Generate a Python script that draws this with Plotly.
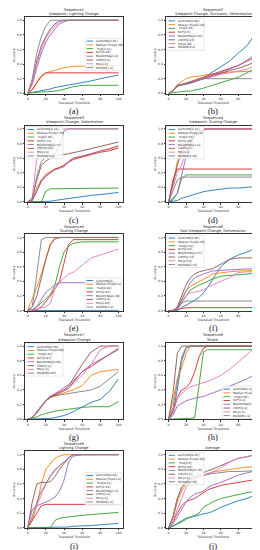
import plotly.graph_objects as go

# ---------------- data ----------------
X = [0, 5, 10, 15, 20, 25, 30, 35, 40, 45, 50, 60, 70, 80, 90, 100]
TRACKERS = ["GOTURN", "Median Flow", "TLD", "KCF", "BOOSTING", "CSRT", "MIL", "MOSSE"]
X_TICKS = [0, 20, 40, 60, 80, 100]
X_TICK_TEXT = ["0", "20", "40", "60", "80", "100"]
Y_TICKS = [0.0, 0.2, 0.4, 0.6, 0.8, 1.0]
Y_TICK_TEXT = ["0.0", "0.2", "0.4", "0.6", "0.8", "1.0"]

seq1 = {
    "GOTURN":      [0, 0.01, 0.02, 0.04, 0.05, 0.06, 0.08, 0.09, 0.10, 0.11, 0.12, 0.15, 0.17, 0.20, 0.22, 0.25],
    "Median Flow": [0, 0.05, 0.14, 0.22, 0.28, 0.30, 0.32, 0.34, 0.35, 0.36, 0.37, 0.37, 0.38, 0.38, 0.38, 0.38],
    "TLD":         [0, 0.01, 0.01, 0.02, 0.02, 0.02, 0.03, 0.04, 0.06, 0.08, 0.09, 0.11, 0.11, 0.11, 0.11, 0.11],
    "KCF":         [0, 0.05, 0.15, 0.24, 0.28, 0.28, 0.28, 0.28, 0.28, 0.28, 0.28, 0.28, 0.28, 0.28, 0.28, 0.28],
    "BOOSTING":    [0, 0.12, 0.35, 0.55, 0.70, 0.80, 0.88, 0.95, 0.98, 1.0, 1.0, 1.0, 1.0, 1.0, 1.0, 1.0],
    "CSRT":        [0, 0.15, 0.45, 0.65, 0.78, 0.88, 0.95, 0.99, 1.0, 1.0, 1.0, 1.0, 1.0, 1.0, 1.0, 1.0],
    "MIL":         [0, 0.14, 0.40, 0.60, 0.75, 0.85, 0.92, 0.97, 1.0, 1.0, 1.0, 1.0, 1.0, 1.0, 1.0, 1.0],
    "MOSSE":       [0, 0.20, 0.55, 0.78, 0.92, 1.0, 1.0, 1.0, 1.0, 1.0, 1.0, 1.0, 1.0, 1.0, 1.0, 1.0],
}
seq2 = {
    "GOTURN":      [0, 0.03, 0.11, 0.12, 0.13, 0.15, 0.17, 0.19, 0.21, 0.25, 0.29, 0.36, 0.44, 0.55, 0.65, 0.82],
    "Median Flow": [0, 0.04, 0.12, 0.16, 0.20, 0.22, 0.23, 0.24, 0.25, 0.26, 0.27, 0.28, 0.29, 0.30, 0.30, 0.29],
    "TLD":         [0, 0.01, 0.02, 0.03, 0.03, 0.03, 0.04, 0.05, 0.07, 0.09, 0.11, 0.15, 0.18, 0.22, 0.28, 0.35],
    "KCF":         [0, 0.03, 0.10, 0.12, 0.14, 0.16, 0.18, 0.20, 0.22, 0.23, 0.25, 0.29, 0.33, 0.38, 0.44, 0.50],
    "BOOSTING":    [0, 0.03, 0.10, 0.11, 0.12, 0.14, 0.16, 0.18, 0.20, 0.22, 0.24, 0.28, 0.33, 0.38, 0.45, 0.54],
    "CSRT":        [0, 0.03, 0.10, 0.11, 0.12, 0.14, 0.16, 0.18, 0.20, 0.22, 0.24, 0.27, 0.31, 0.34, 0.38, 0.43],
    "MIL":         [0, 0.03, 0.10, 0.12, 0.15, 0.16, 0.17, 0.19, 0.20, 0.21, 0.23, 0.26, 0.28, 0.30, 0.33, 0.38],
    "MOSSE":       [0, 0.03, 0.10, 0.12, 0.14, 0.15, 0.17, 0.19, 0.20, 0.20, 0.20, 0.20, 0.20, 0.20, 0.20, 0.20],
}
seq3 = {
    "GOTURN":      [0, 0, 0, 0, 0, 0.01, 0.02, 0.03, 0.04, 0.05, 0.05, 0.07, 0.09, 0.10, 0.12, 0.13],
    "Median Flow": [0, 0.02, 0.20, 0.30, 0.38, 0.42, 0.45, 0.47, 0.50, 0.55, 0.60, 0.62, 0.65, 0.70, 0.72, 0.76],
    "TLD":         [0, 0, 0, 0, 0.15, 0.18, 0.18, 0.18, 0.18, 0.18, 0.18, 0.18, 0.19, 0.19, 0.19, 0.19],
    "KCF":         [0, 0.02, 0.15, 0.28, 0.35, 0.40, 0.45, 0.47, 0.50, 0.54, 0.58, 0.62, 0.65, 0.68, 0.70, 0.74],
    "BOOSTING":    [0, 0.02, 0.15, 0.30, 0.36, 0.40, 0.44, 0.46, 0.48, 0.55, 0.60, 0.63, 0.66, 0.70, 0.73, 0.77],
    "CSRT":        [0, 0.05, 0.30, 0.50, 0.56, 0.60, 0.62, 0.64, 0.65, 0.66, 0.67, 0.70, 0.73, 0.76, 0.80, 0.82],
    "MIL":         [0, 0.05, 0.60, 0.85, 0.93, 0.97, 0.99, 1.0, 1.0, 1.0, 1.0, 1.0, 1.0, 1.0, 1.0, 1.0],
    "MOSSE":       [0, 0.05, 0.35, 0.55, 0.62, 0.63, 0.65, 0.80, 0.97, 1.0, 1.0, 1.0, 1.0, 1.0, 1.0, 1.0],
}
seq4 = {
    "GOTURN":      [0, 0.01, 0.02, 0.05, 0.07, 0.09, 0.10, 0.12, 0.14, 0.15, 0.16, 0.18, 0.19, 0.19, 0.20, 0.21],
    "Median Flow": [0, 0.25, 0.55, 0.72, 0.80, 0.86, 0.90, 0.95, 0.98, 1.0, 1.0, 1.0, 1.0, 1.0, 1.0, 1.0],
    "TLD":         [0, 0.03, 0.12, 0.32, 0.37, 0.37, 0.37, 0.37, 0.37, 0.37, 0.37, 0.37, 0.37, 0.37, 0.37, 0.37],
    "KCF":         [0, 0.30, 0.45, 0.45, 0.45, 0.45, 0.45, 0.45, 0.45, 0.45, 0.45, 0.45, 0.45, 0.45, 0.45, 0.45],
    "BOOSTING":    [0, 0.05, 0.12, 0.38, 0.62, 0.80, 0.90, 0.95, 1.0, 1.0, 1.0, 1.0, 1.0, 1.0, 1.0, 1.0],
    "CSRT":        [0, 0.25, 0.50, 0.70, 0.78, 0.85, 0.90, 0.95, 0.99, 1.0, 1.0, 1.0, 1.0, 1.0, 1.0, 1.0],
    "MIL":         [0, 0.20, 0.40, 0.50, 0.70, 0.85, 0.95, 1.0, 1.0, 1.0, 1.0, 1.0, 1.0, 1.0, 1.0, 1.0],
    "MOSSE":       [0, 0.15, 0.30, 0.34, 0.34, 0.34, 0.34, 0.34, 0.34, 0.34, 0.34, 0.34, 0.34, 0.34, 0.34, 0.34],
}
seq5 = {
    "GOTURN":      [0, 0, 0, 0, 0, 0, 0, 0, 0, 0, 0, 0, 0, 0, 0, 0],
    "Median Flow": [0, 0.15, 0.32, 0.50, 0.70, 0.92, 0.99, 1.0, 1.0, 1.0, 1.0, 1.0, 1.0, 1.0, 1.0, 1.0],
    "TLD":         [0, 0.01, 0.05, 0.10, 0.16, 0.22, 0.35, 0.60, 0.80, 0.88, 0.92, 0.94, 0.94, 0.94, 0.94, 0.94],
    "KCF":         [0, 0, 0.01, 0.05, 0.12, 0.20, 0.30, 0.40, 0.65, 0.90, 0.97, 0.97, 0.97, 0.97, 0.97, 0.97],
    "BOOSTING":    [0, 0.01, 0.05, 0.15, 0.25, 0.30, 0.35, 0.38, 0.38, 0.38, 0.38, 0.38, 0.38, 0.38, 0.38, 0.38],
    "CSRT":        [0, 0.05, 0.20, 0.45, 0.70, 0.90, 0.98, 1.0, 1.0, 1.0, 1.0, 1.0, 1.0, 1.0, 1.0, 1.0],
    "MIL":         [0, 0, 0.02, 0.03, 0.05, 0.10, 0.30, 0.38, 0.45, 0.50, 0.52, 0.62, 0.72, 0.76, 0.80, 0.84],
    "MOSSE":       [0, 0.05, 0.50, 0.97, 1.0, 1.0, 1.0, 1.0, 1.0, 1.0, 1.0, 1.0, 1.0, 1.0, 1.0, 1.0],
}
seq6 = {
    "GOTURN":      [0, 0, 0, 0.04, 0.07, 0.10, 0.14, 0.18, 0.24, 0.32, 0.42, 0.60, 0.70, 0.76, 0.80, 0.85],
    "Median Flow": [0, 0, 0.03, 0.15, 0.27, 0.33, 0.36, 0.39, 0.42, 0.46, 0.50, 0.52, 0.53, 0.54, 0.55, 0.55],
    "TLD":         [0, 0, 0.03, 0.12, 0.20, 0.28, 0.32, 0.35, 0.37, 0.40, 0.43, 0.47, 0.48, 0.49, 0.50, 0.51],
    "KCF":         [0, 0, 0.01, 0.03, 0.04, 0.04, 0.04, 0.04, 0.04, 0.04, 0.04, 0.04, 0.04, 0.04, 0.04, 0.04],
    "BOOSTING":    [0, 0, 0.03, 0.15, 0.28, 0.38, 0.45, 0.48, 0.50, 0.52, 0.54, 0.55, 0.56, 0.56, 0.57, 0.57],
    "CSRT":        [0, 0, 0.05, 0.20, 0.35, 0.45, 0.50, 0.53, 0.55, 0.56, 0.57, 0.63, 0.70, 0.72, 0.72, 0.72],
    "MIL":         [0, 0, 0.02, 0.10, 0.20, 0.25, 0.25, 0.27, 0.28, 0.32, 0.35, 0.40, 0.45, 0.52, 0.53, 0.53],
    "MOSSE":       [0, 0, 0.02, 0.10, 0.13, 0.13, 0.13, 0.13, 0.13, 0.13, 0.13, 0.13, 0.13, 0.13, 0.13, 0.13],
}
seq7 = {
    "GOTURN":      [0, 0, 0, 0, 0, 0.01, 0.02, 0.03, 0.05, 0.07, 0.10, 0.17, 0.23, 0.27, 0.38, 0.55],
    "Median Flow": [0, 0.02, 0.10, 0.18, 0.25, 0.30, 0.32, 0.34, 0.36, 0.38, 0.40, 0.46, 0.60, 0.65, 0.67, 0.68],
    "TLD":         [0, 0.01, 0.03, 0.06, 0.08, 0.10, 0.11, 0.12, 0.13, 0.14, 0.15, 0.16, 0.17, 0.17, 0.17, 0.24],
    "KCF":         [0, 0.02, 0.10, 0.18, 0.25, 0.30, 0.33, 0.35, 0.38, 0.42, 0.50, 0.65, 0.72, 0.80, 0.88, 0.97],
    "BOOSTING":    [0, 0.02, 0.10, 0.18, 0.26, 0.31, 0.35, 0.38, 0.42, 0.47, 0.52, 0.65, 0.75, 0.82, 0.88, 0.95],
    "CSRT":        [0, 0.02, 0.10, 0.18, 0.25, 0.30, 0.33, 0.36, 0.40, 0.45, 0.55, 0.75, 0.92, 1.0, 1.0, 1.0],
    "MIL":         [0, 0.02, 0.10, 0.18, 0.26, 0.32, 0.35, 0.37, 0.40, 0.42, 0.48, 0.60, 0.75, 0.95, 1.0, 1.0],
    "MOSSE":       [0, 0.02, 0.08, 0.17, 0.25, 0.30, 0.32, 0.33, 0.34, 0.35, 0.36, 0.38, 0.40, 0.45, 0.55, 0.65],
}
seq8 = {
    "GOTURN":      [0, 0.10, 0.40, 0.80, 0.97, 1.0, 1.0, 1.0, 1.0, 1.0, 1.0, 1.0, 1.0, 1.0, 1.0, 1.0],
    "Median Flow": [0, 0.25, 0.55, 0.70, 0.90, 1.0, 1.0, 1.0, 1.0, 1.0, 1.0, 1.0, 1.0, 1.0, 1.0, 1.0],
    "TLD":         [0, 0, 0, 0, 0, 0.01, 0.02, 0.50, 0.92, 0.95, 0.95, 0.95, 0.95, 0.95, 0.95, 0.95],
    "KCF":         [0, 0.10, 0.30, 0.40, 0.43, 0.50, 0.65, 0.85, 0.97, 1.0, 1.0, 1.0, 1.0, 1.0, 1.0, 1.0],
    "BOOSTING":    [0, 0.05, 0.18, 0.22, 0.25, 0.27, 0.29, 0.30, 0.31, 0.33, 0.35, 0.40, 0.45, 0.50, 0.55, 0.62],
    "CSRT":        [0, 0.35, 0.90, 1.0, 1.0, 1.0, 1.0, 1.0, 1.0, 1.0, 1.0, 1.0, 1.0, 1.0, 1.0, 1.0],
    "MIL":         [0, 0.08, 0.28, 0.35, 0.40, 0.44, 0.46, 0.48, 0.50, 0.52, 0.54, 0.60, 0.68, 0.78, 0.88, 1.0],
    "MOSSE":       [0, 0.15, 0.50, 0.85, 0.98, 1.0, 1.0, 1.0, 1.0, 1.0, 1.0, 1.0, 1.0, 1.0, 1.0, 1.0],
}
seq9 = {
    "GOTURN":      [0, 0, 0, 0, 0, 0, 0, 0.01, 0.01, 0.01, 0.02, 0.02, 0.03, 0.04, 0.05, 0.06],
    "Median Flow": [0, 0.10, 0.30, 0.60, 0.80, 0.88, 0.95, 0.98, 1.0, 1.0, 1.0, 1.0, 1.0, 1.0, 1.0, 1.0],
    "TLD":         [0, 0, 0, 0, 0, 0, 0.10, 0.13, 0.14, 0.15, 0.16, 0.17, 0.18, 0.19, 0.20, 0.21],
    "KCF":         [0, 0.10, 0.20, 0.30, 0.32, 0.32, 0.32, 0.32, 0.32, 0.32, 0.32, 0.32, 0.32, 0.32, 0.32, 0.32],
    "BOOSTING":    [0, 0.25, 0.30, 0.32, 0.35, 0.38, 0.42, 0.50, 0.65, 0.90, 0.98, 1.0, 1.0, 1.0, 1.0, 1.0],
    "CSRT":        [0, 0.35, 0.60, 0.62, 0.62, 0.63, 0.70, 0.80, 0.88, 0.95, 1.0, 1.0, 1.0, 1.0, 1.0, 1.0],
    "MIL":         [0, 0.25, 0.30, 0.45, 0.60, 0.72, 0.80, 0.85, 0.90, 0.95, 1.0, 1.0, 1.0, 1.0, 1.0, 1.0],
    "MOSSE":       [0, 0.15, 0.35, 0.50, 0.60, 0.70, 0.78, 0.85, 0.90, 0.96, 1.0, 1.0, 1.0, 1.0, 1.0, 1.0],
}
average = {
    "GOTURN":      [0, 0.02, 0.06, 0.10, 0.13, 0.14, 0.16, 0.17, 0.19, 0.20, 0.22, 0.28, 0.33, 0.37, 0.40, 0.45],
    "Median Flow": [0, 0.12, 0.35, 0.50, 0.60, 0.65, 0.68, 0.70, 0.72, 0.74, 0.76, 0.78, 0.80, 0.82, 0.83, 0.83],
    "TLD":         [0, 0.02, 0.05, 0.08, 0.12, 0.15, 0.17, 0.20, 0.28, 0.32, 0.35, 0.40, 0.43, 0.45, 0.48, 0.50],
    "KCF":         [0, 0.08, 0.20, 0.30, 0.36, 0.38, 0.40, 0.44, 0.48, 0.52, 0.54, 0.58, 0.60, 0.62, 0.64, 0.66],
    "BOOSTING":    [0, 0.05, 0.15, 0.25, 0.35, 0.42, 0.46, 0.48, 0.50, 0.55, 0.58, 0.62, 0.67, 0.72, 0.75, 0.78],
    "CSRT":        [0, 0.15, 0.40, 0.55, 0.63, 0.68, 0.70, 0.73, 0.76, 0.78, 0.80, 0.85, 0.90, 0.95, 0.97, 1.0],
    "MIL":         [0, 0.08, 0.25, 0.40, 0.55, 0.62, 0.66, 0.70, 0.72, 0.74, 0.76, 0.82, 0.90, 0.95, 0.98, 1.0],
    "MOSSE":       [0, 0.15, 0.40, 0.55, 0.62, 0.66, 0.68, 0.70, 0.72, 0.73, 0.74, 0.76, 0.77, 0.77, 0.78, 0.78],
}

PANELS = [seq1, seq2, seq3, seq4, seq5, seq6, seq7, seq8, seq9, average]
TITLE_LINE1 = ["Sequence1", "Sequence2", "Sequence3", "Sequence4", "Sequence5",
               "Sequence6", "Sequence7", "Sequence8", "Sequence9", ""]
TITLE_LINE2 = [
    "Viewpoint, Lighting Change",
    "Viewpoint Change, Occlusion, Deformation",
    "Viewpoint Change, Deformation",
    "Viewpoint, Scaling Change",
    "Scaling Change",
    "Fast Viewpoint Change, Deformation",
    "Viewpoint Change",
    "Shake",
    "Lighting Change",
    "Average",
]
CAPTIONS = ["(a)", "(b)", "(c)", "(d)", "(e)", "(f)", "(g)", "(h)", "(i)", "(j)"]
LEGEND_LOC = ["center right", "upper left", "upper left", "upper left", "lower right",
              "upper left", "upper left", "lower right", "center right", "upper left"]

# ---------------- styling / layout ----------------
COLORS = ["#1f77b4", "#ff7f0e", "#2ca02c", "#d62728", "#9467bd", "#8c564b", "#e377c2", "#7f7f7f"]
W, H = 260, 550
ROW_TOPS = [9, 118, 227, 336, 445]
PLOT_H = 77
COL_X = [(17, 115), (158, 252)]
FONT = "DejaVu Sans"
SMALL = 3.2

fig = go.Figure()
shapes = []
annotations = []
layout_axes = {}

for i, data in enumerate(PANELS):
    row, col = divmod(i, 2)
    n = "" if i == 0 else str(i + 1)
    xa, ya = "x" + n, "y" + n
    x0p, x1p = COL_X[col]
    top = ROW_TOPS[row]
    pw = x1p - x0p
    ph = PLOT_H

    for k, name in enumerate(TRACKERS):
        fig.add_trace(go.Scatter(
            x=X, y=data[name], mode="lines", xaxis=xa, yaxis=ya,
            line=dict(color=COLORS[k], width=0.9), showlegend=False,
            hoverinfo="skip"))

    tick_font = dict(size=SMALL, color="#333", family=FONT)
    layout_axes["xaxis" + n] = dict(
        domain=[x0p / W, x1p / W], anchor=ya, range=[-3, 105],
        tickvals=X_TICKS, ticktext=X_TICK_TEXT, ticks="outside", ticklen=1.5,
        tickwidth=0.5, tickcolor="#333", tickfont=tick_font,
        showline=True, mirror=True, linecolor="#333", linewidth=0.6, showgrid=False,
        zeroline=False,
        title=dict(text="Tolerated Threshold", font=tick_font, standoff=1),
    )
    layout_axes["yaxis" + n] = dict(
        domain=[1 - (top + ph) / H, 1 - top / H], anchor=xa, range=[-0.005, 1.045],
        tickvals=Y_TICKS, ticktext=Y_TICK_TEXT, ticks="outside", ticklen=1.5,
        tickwidth=0.5, tickcolor="#333", tickfont=tick_font,
        showline=True, mirror=True, linecolor="#333", linewidth=0.6, showgrid=False,
        zeroline=False,
        title=dict(text="Accuracy", font=tick_font, standoff=1),
    )

    xd, yd = xa + " domain", ya + " domain"
    title_font = dict(size=3.6, color="#222", family=FONT)
    # title (two separate lines)
    annotations.append(dict(text=TITLE_LINE2[i], xref=xd, yref=yd, x=0.5, y=1, xanchor="center",
                            yanchor="bottom", yshift=0.2, showarrow=False, borderpad=0,
                            font=title_font))
    if TITLE_LINE1[i]:
        annotations.append(dict(text=TITLE_LINE1[i], xref=xd, yref=yd, x=0.5, y=1, xanchor="center",
                                yanchor="bottom", yshift=4.3, showarrow=False, borderpad=0,
                                font=title_font))
    # caption
    annotations.append(dict(text=CAPTIONS[i], xref=xd, yref=yd, x=0.5, y=0, xanchor="center",
                            yanchor="middle", yshift=-17.5, showarrow=False, borderpad=0,
                            font=dict(size=8.5, color="#111", family="Liberation Serif")))

    # legend (drawn manually, small matplotlib-style box)
    item_h = 3.8
    box_w = 37.0
    box_h = 8 * item_h + 2.0
    loc = LEGEND_LOC[i]
    pad = 1.0
    if loc == "upper left":
        bx0 = pad
        by1 = ph - pad
    elif loc == "lower right":
        bx0 = pw - pad - box_w
        by1 = pad + box_h
    else:  # center right
        bx0 = pw - pad - box_w
        by1 = ph * 0.5 + box_h / 2 + 1.0
    by0 = by1 - box_h
    shapes.append(dict(type="rect", xref=xd, yref=yd, x0=bx0 / pw, x1=(bx0 + box_w) / pw,
                       y0=by0 / ph, y1=by1 / ph, line=dict(color="#d0d0d0", width=0.5),
                       fillcolor="rgba(255,255,255,0.8)", layer="above"))
    for k, name in enumerate(TRACKERS):
        cy = by1 - 1.0 - item_h * (k + 0.5)
        shapes.append(dict(type="line", xref=xd, yref=yd, x0=(bx0 + 1.5) / pw, x1=(bx0 + 8) / pw,
                           y0=cy / ph, y1=cy / ph, line=dict(color=COLORS[k], width=0.9),
                           layer="above"))
        label = f"{name}[{round(data[name][-1], 2)}]"
        annotations.append(dict(text=label, xref=xd, yref=yd, x=(bx0 + 9.5) / pw, y=cy / ph,
                                xanchor="left", yanchor="middle", showarrow=False,
                                borderpad=0, font=dict(size=2.9, color="#222", family=FONT)))

fig.update_layout(
    width=W, height=H, margin=dict(l=0, r=0, t=0, b=0),
    paper_bgcolor="white", plot_bgcolor="white", showlegend=False,
    shapes=shapes, annotations=annotations, **layout_axes,
)

fig.write_html("out.html")
